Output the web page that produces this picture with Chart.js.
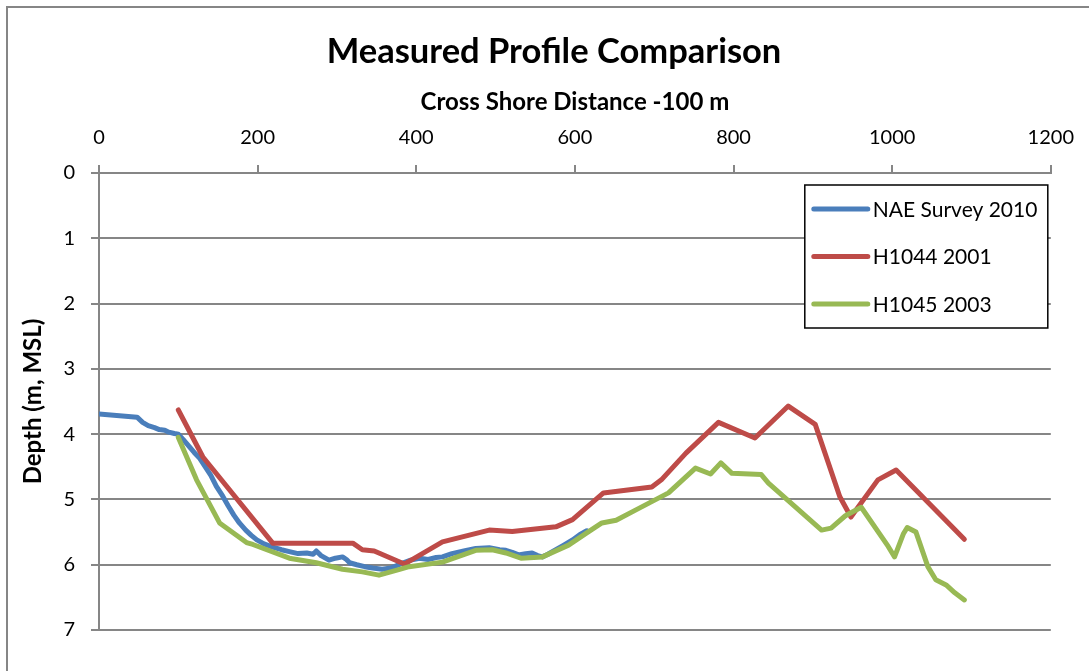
<!DOCTYPE html>
<html lang="en">
  <head>
    <meta charset="UTF-8" />
    <title>Measured Profile Comparison</title>
    <script src="https://cdn.jsdelivr.net/npm/chart.js@4/dist/chart.umd.min.js"></script>
    <style>
      html, body { margin: 0; padding: 0; background: #fff; }
      #wrap { width: 1089px; height: 671px; }
    </style>
  </head>
  <body>
    <div id="wrap"><canvas id="myChart" width="1089" height="671"></canvas></div>
    <script>
      // Data (x = cross shore distance, y = depth)
      const xTicks = [0, 200, 400, 600, 800, 1000, 1200];
      const yTicks = [0, 1, 2, 3, 4, 5, 6, 7];

      const naeX = [0, 48, 55, 62, 70, 76, 83, 88, 95, 100, 106, 113, 120, 127, 134, 141, 148, 156, 163, 170,
        177, 185, 192, 199, 208, 219, 230, 240, 251, 262, 270, 274, 280, 290, 298, 307, 312, 316, 325, 335,
        345, 357, 368, 382, 393, 404, 415, 425, 433, 445, 460, 475, 492, 505, 513, 521, 529, 538, 546, 553,
        559, 566, 576, 586, 597, 606, 615];
      const naeY = [3.69, 3.74, 3.82, 3.87, 3.90, 3.93, 3.94, 3.97, 3.99, 4.00, 4.08, 4.18, 4.28, 4.37, 4.50, 4.63, 4.80, 4.95, 5.10, 5.24,
        5.36, 5.47, 5.55, 5.62, 5.68, 5.73, 5.77, 5.80, 5.83, 5.82, 5.84, 5.79, 5.86, 5.93, 5.90, 5.88, 5.92, 5.97, 6.00, 6.03,
        6.05, 6.07, 6.05, 5.98, 5.93, 5.90, 5.92, 5.89, 5.88, 5.83, 5.79, 5.75, 5.74, 5.77, 5.78, 5.81, 5.85, 5.83, 5.82, 5.86,
        5.88, 5.84, 5.77, 5.70, 5.62, 5.54, 5.48];

      const h1044X = [100, 131, 219, 320, 332, 347, 385, 433, 492, 521, 576, 597, 636, 697, 709, 740, 781, 827, 869, 903,
        934, 948, 982, 1005, 1091];
      const h1044Y = [3.63, 4.35, 5.67, 5.67, 5.77, 5.79, 5.99, 5.65, 5.47, 5.49, 5.42, 5.31, 4.90, 4.81, 4.70, 4.29, 3.82, 4.06, 3.57, 3.85,
        4.96, 5.27, 4.70, 4.55, 5.61];

      const h1045X = [100, 123, 152, 186, 194, 240, 274, 307, 332, 353, 379, 391, 433, 475, 496, 513, 532, 559, 592, 614,
        634, 652, 677, 718, 752, 771, 784, 798, 835, 844, 911, 923, 941, 961, 995, 1003, 1014, 1019, 1030, 1045,
        1055, 1068, 1079, 1091];
      const h1045Y = [4.05, 4.70, 5.36, 5.66, 5.69, 5.90, 5.97, 6.07, 6.11, 6.16, 6.07, 6.03, 5.96, 5.78, 5.77, 5.82, 5.90, 5.88, 5.70, 5.52,
        5.36, 5.32, 5.16, 4.90, 4.52, 4.61, 4.44, 4.60, 4.62, 4.75, 5.47, 5.44, 5.25, 5.12, 5.72, 5.88, 5.53, 5.43, 5.50, 6.03,
        6.23, 6.31, 6.43, 6.54];

      const chartTitle = "Measured Profile Comparison";

      const toPoints = (xs, ys) => xs.map((x, i) => ({ x: x, y: ys[i] }));

      const FONT = "Lato, 'Noto Sans', sans-serif";
      const GRAY = "#868686";

      // white background, outer frame of the chart object and the title
      // (Excel centres the title on the whole object, not on the plot)
      const framePlugin = {
        id: "frame",
        beforeDraw(chart) {
          const c = chart.ctx;
          c.save();
          c.fillStyle = "#fff";
          c.fillRect(0, 0, chart.width, chart.height);
          c.strokeStyle = GRAY;
          c.lineWidth = 2;
          c.strokeRect(7, 7, chart.width + 20, chart.height + 20);
          c.fillStyle = "#000";
          c.font = "bold 34.5px " + FONT;
          c.textAlign = "center";
          c.textBaseline = "middle";
          c.fillText(chartTitle, 554, 52);
          c.restore();
        },
      };

      // legend box drawn inside the plot, like Excel does
      const boxLegend = {
        id: "boxLegend",
        afterDraw(chart) {
          const c = chart.ctx;
          const area = chart.chartArea;
          const w = 243, h = 143;
          const left = area.right - 3 - w;
          const top = area.top + 12;
          c.save();
          c.fillStyle = "#fff";
          c.fillRect(left, top, w, h);
          c.strokeStyle = "#000";
          c.lineWidth = 1.5;
          c.strokeRect(left, top, w, h);
          c.font = "21px " + FONT;
          c.textBaseline = "middle";
          chart.data.datasets.forEach((ds, i) => {
            const y = top + 24 + i * 47.5;
            c.strokeStyle = ds.borderColor;
            c.lineWidth = 5;
            c.lineCap = "round";
            c.beginPath();
            c.moveTo(left + 9, y);
            c.lineTo(left + 63, y);
            c.stroke();
            c.fillStyle = "#000";
            c.fillText(ds.label, left + 68, y + 1);
          });
          c.restore();
        },
      };

      const ctx = document.getElementById("myChart").getContext("2d");

      new Chart(ctx, {
        type: "scatter",
        data: {
          datasets: [
            {
              label: "NAE Survey 2010",
              data: toPoints(naeX, naeY),
              borderColor: "#4a7ebb",
              order: 3,
            },
            {
              label: "H1044 2001",
              data: toPoints(h1044X, h1044Y),
              borderColor: "#be4b48",
              order: 2,
            },
            {
              label: "H1045 2003",
              data: toPoints(h1045X, h1045Y),
              borderColor: "#98b954",
              order: 1,
            },
          ],
        },
        options: {
          responsive: false,
          animation: false,
          devicePixelRatio: 1,
          showLine: true,
          elements: {
            point: { radius: 0, hoverRadius: 0 },
            line: {
              borderWidth: 5,
              tension: 0,
              borderCapStyle: "round",
              borderJoinStyle: "round",
              fill: false,
            },
          },
          layout: { padding: { left: 0, top: 71.1, right: 36, bottom: 41 } },
          plugins: {
            legend: { display: false },
            tooltip: { enabled: false },
            title: { display: false },
          },
          scales: {
            x: {
              type: "linear",
              position: "top",
              min: 0,
              max: 1200,
              afterBuildTicks(scale) {
                scale.ticks = xTicks.map((v) => ({ value: v }));
              },
              afterFit(scale) {
                scale.height = 101.9;
              },
              grid: {
                drawOnChartArea: false,
                drawTicks: true,
                tickLength: 8,
                color: GRAY,
                lineWidth: 2,
              },
              border: { display: true, color: GRAY, width: 2 },
              ticks: {
                color: "#000",
                padding: 15,
                maxRotation: 0,
                font: { family: FONT, size: 20 },
                callback: (v) => String(v),
              },
              title: {
                display: true,
                text: "Cross Shore Distance -100 m",
                color: "#000",
                font: { family: FONT, size: 24, weight: "bold", lineHeight: 1.2 },
                padding: { top: 16.5, bottom: 0 },
              },
            },
            y: {
              type: "linear",
              reverse: true,
              min: 0,
              max: 7,
              afterBuildTicks(scale) {
                scale.ticks = yTicks.map((v) => ({ value: v }));
              },
              afterFit(scale) {
                scale.width = 99;
              },
              grid: {
                drawTicks: true,
                tickLength: 8,
                color: GRAY,
                lineWidth: 2,
              },
              border: { display: true, color: GRAY, width: 2 },
              ticks: {
                color: "#000",
                padding: 16,
                font: { family: FONT, size: 20 },
                callback: (v) => String(v),
              },
              title: {
                display: true,
                text: "Depth (m, MSL)",
                color: "#000",
                font: { family: FONT, size: 24, weight: "bold", lineHeight: 1.2 },
                padding: { top: 19, bottom: 0 },
              },
            },
          },
        },
        plugins: [framePlugin, boxLegend],
      });
    </script>
  </body>
</html>
